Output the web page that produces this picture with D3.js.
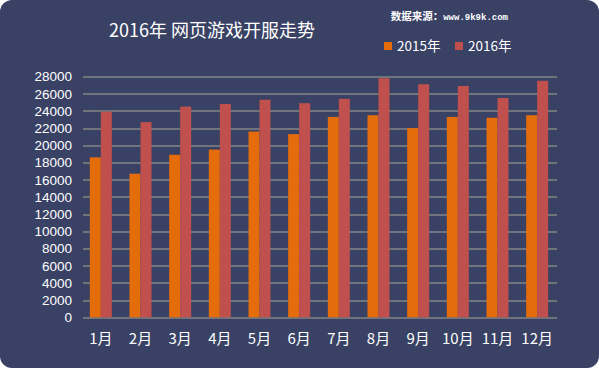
<!DOCTYPE html>
<html>
<head>
<meta charset="utf-8">
<script src="https://cdn.jsdelivr.net/npm/d3@7"></script>
<style>
    body { margin: 0; background: #fff; }
    svg text { font-family: "Noto Sans CJK SC", "Noto Sans", sans-serif; fill: #fff; }
</style>
</head>
<body>
<svg id="chart" width="599" height="368"></svg>
<script>
    const months = ['1月','2月','3月','4月','5月','6月','7月','8月','9月','10月','11月','12月'];
    const seriesNames = ['2015年', '2016年'];
    const values2015 = [18600, 16700, 18900, 19500, 21600, 21300, 23300, 23500, 22000, 23300, 23200, 23500];
    const values2016 = [23900, 22700, 24500, 24800, 25300, 24900, 25400, 27800, 27100, 26900, 25500, 27500];
    const yTicks = d3.range(0, 28001, 2000);
    const colors = ['#e46c0a', '#c0504d'];

    const width = 599, height = 368;
    const margin = {top: 76.5, right: 42, bottom: 50.7, left: 81};
    const innerW = width - margin.left - margin.right;
    const innerH = height - margin.top - margin.bottom;

    const svg = d3.select('#chart');

    // panel background with rounded corners
    svg.append('rect')
        .attr('width', width).attr('height', height)
        .attr('rx', 12).attr('ry', 12)
        .attr('fill', '#394164');

    const chart = svg.append('g')
        .attr('transform', 'translate(' + margin.left + ',' + margin.top + ')');

    const x = d3.scaleBand().domain(months).range([0, innerW]);
    const x1 = d3.scaleBand().domain(seriesNames).range([x.bandwidth() / 2 - 11, x.bandwidth() / 2 + 11]);
    const y = d3.scaleLinear().domain([0, 28000]).range([innerH, 0]);

    // grid lines
    chart.append('g').selectAll('line')
        .data(yTicks)
        .enter().append('line')
            .attr('x1', 2).attr('x2', innerW)
            .attr('y1', d => Math.round(y(d)) + 0.5)
            .attr('y2', d => Math.round(y(d)) + 0.5)
            .attr('stroke', '#868686')
            .attr('stroke-width', 1.5);

    // y axis labels
    const yAxis = chart.append('g')
        .attr('transform', 'translate(-9,0)')
        .call(d3.axisLeft(y).tickValues(yTicks).tickFormat(d3.format('d')).tickSize(0).tickPadding(0));
    yAxis.select('.domain').remove();
    yAxis.selectAll('text').attr('font-size', 13.5).attr('fill', '#fff')
        .style('font-family', '"Liberation Sans", sans-serif');

    // x axis labels
    const xAxis = chart.append('g')
        .attr('transform', 'translate(0,' + innerH + ')')
        .call(d3.axisBottom(x).tickSize(0).tickPadding(16));
    xAxis.select('.domain').remove();
    xAxis.selectAll('text').attr('font-size', 15).attr('fill', '#fff')
        .style('font-family', '"Noto Sans CJK SC", sans-serif');

    // bars
    const data = months.map((m, i) => ({month: m, vals: [values2015[i], values2016[i]]}));
    const groups = chart.append('g').selectAll('g')
        .data(data)
        .enter().append('g')
            .attr('transform', d => 'translate(' + x(d.month) + ',0)');
    groups.selectAll('rect')
        .data(d => d.vals.map((v, j) => ({name: seriesNames[j], value: v, color: colors[j]})))
        .enter().append('rect')
            .attr('x', d => x1(d.name))
            .attr('width', x1.bandwidth())
            .attr('y', d => y(d.value))
            .attr('height', d => innerH - y(d.value))
            .attr('fill', d => d.color);

    // title
    svg.append('text')
        .attr('x', 212).attr('y', 37)
        .attr('text-anchor', 'middle')
        .attr('font-size', 18)
        .text('2016年 网页游戏开服走势');

    // source
    const src = svg.append('text')
        .attr('x', 508).attr('y', 20)
        .attr('text-anchor', 'end')
        .attr('font-size', 10.5)
        .attr('font-weight', 'bold');
    src.append('tspan').text('数据来源：');
    src.append('tspan')
        .style('font-family', '"Liberation Mono", monospace')
        .attr('font-size', 9)
        .text('www.9k9k.com');

    // legend
    const legend = svg.append('g').selectAll('g')
        .data(seriesNames)
        .enter().append('g')
            .attr('transform', (d, i) => 'translate(' + (384 + i * 71) + ',42)');
    legend.append('rect')
        .attr('width', 8).attr('height', 8)
        .attr('fill', (d, i) => colors[i]);
    legend.append('text')
        .attr('x', 13).attr('y', 9)
        .attr('font-size', 13.5)
        .text(d => d);
</script>
</body>
</html>
